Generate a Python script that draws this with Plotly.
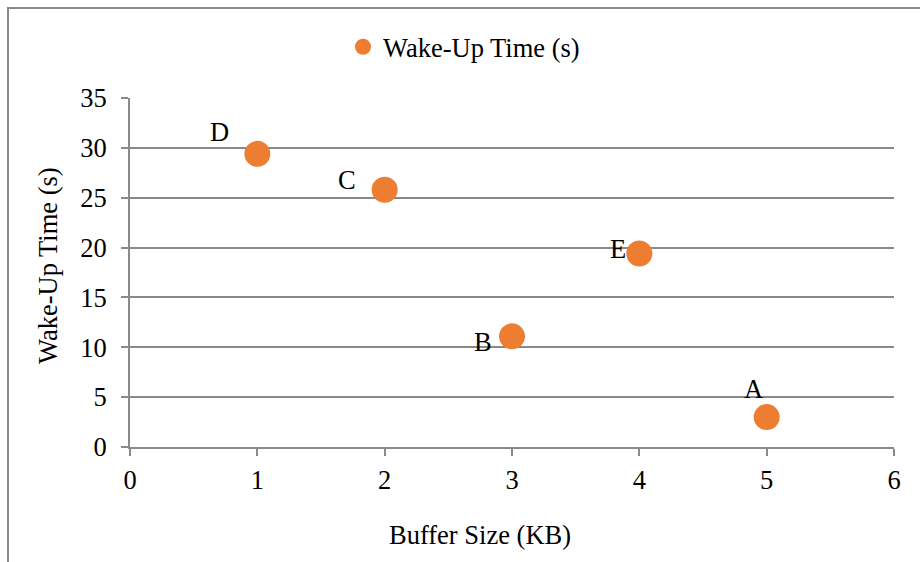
import plotly.graph_objects as go

# Buffer size (KB) vs wake-up time (s), one labelled point per configuration
point_labels = ["A", "B", "C", "D", "E"]
buffer_kb = [5, 3, 2, 1, 4]
wakeup_s = [3.0, 11.1, 25.8, 29.4, 19.4]

x_ticks = [0, 1, 2, 3, 4, 5, 6]
y_ticks = [0, 5, 10, 15, 20, 25, 30, 35]

# pixel offsets of each point label from its marker (x right, y up)
label_offsets = {"A": (-13, 28), "B": (-29, -6), "C": (-38, 10), "D": (-38, 22), "E": (-21, 5)}

ORANGE = "#ED7D31"
GRID = "#898989"
FONT = "Liberation Serif"
FS = 26.5

W, H = 920, 562
ML, MR, MT, MB = 130, 26, 98, 115
PW, PH = W - ML - MR, H - MT - MB


def px_x(p):
    return (p - ML) / PW


def px_y(p):
    return (H - MB - p) / PH


fig = go.Figure()
fig.add_trace(go.Scatter(
    x=buffer_kb, y=wakeup_s, mode="markers", name="Wake-Up Time (s)",
    marker=dict(color=ORANGE, size=26, line=dict(width=0)),
    cliponaxis=False,
))

annotations = []
for lab, xv, yv in zip(point_labels, buffer_kb, wakeup_s):
    dx, dy = label_offsets[lab]
    annotations.append(dict(
        x=xv, y=yv, xref="x", yref="y", text=lab, showarrow=False,
        xshift=dx, yshift=dy, font=dict(family=FONT, size=FS, color="black"),
    ))

# axis titles
annotations.append(dict(
    x=px_x(480), y=px_y(535), xref="paper", yref="paper", text="Buffer Size (KB)",
    showarrow=False, font=dict(family=FONT, size=FS, color="black"),
    xanchor="center", yanchor="middle",
))
annotations.append(dict(
    x=px_x(48), y=px_y(266), xref="paper", yref="paper", text="Wake-Up Time (s)",
    showarrow=False, textangle=-90, font=dict(family=FONT, size=FS, color="black"),
    xanchor="center", yanchor="middle",
))

fig.update_layout(
    width=W, height=H,
    margin=dict(l=ML, r=MR, t=MT, b=MB),
    paper_bgcolor="white", plot_bgcolor="white",
    font=dict(family=FONT, size=FS, color="black"),
    showlegend=True,
    legend=dict(
        orientation="h", x=px_x(343), y=px_y(47), xanchor="left", yanchor="middle",
        font=dict(family=FONT, size=FS, color="black"), bgcolor="rgba(0,0,0,0)",
    ),
    annotations=annotations,
    shapes=[dict(
        type="rect", xref="paper", yref="paper",
        x0=px_x(8), x1=px_x(940), y0=px_y(580), y1=px_y(8),
        line=dict(color=GRID, width=2), fillcolor="rgba(0,0,0,0)", layer="below",
    )],
    xaxis=dict(
        range=[0, 6], tickvals=x_ticks, showgrid=False, zeroline=False,
        showline=True, linecolor=GRID, linewidth=2,
        ticks="outside", ticklen=7, tickwidth=2, tickcolor=GRID,
        ticklabelstandoff=1, fixedrange=True,
    ),
    yaxis=dict(
        range=[0, 35], tickvals=y_ticks, showgrid=True, gridcolor=GRID, gridwidth=2,
        zeroline=False, showline=True, linecolor=GRID, linewidth=2,
        ticks="outside", ticklen=7, tickwidth=2, tickcolor=GRID,
        ticklabelstandoff=9, fixedrange=True,
    ),
)

fig.write_html("out.html")
